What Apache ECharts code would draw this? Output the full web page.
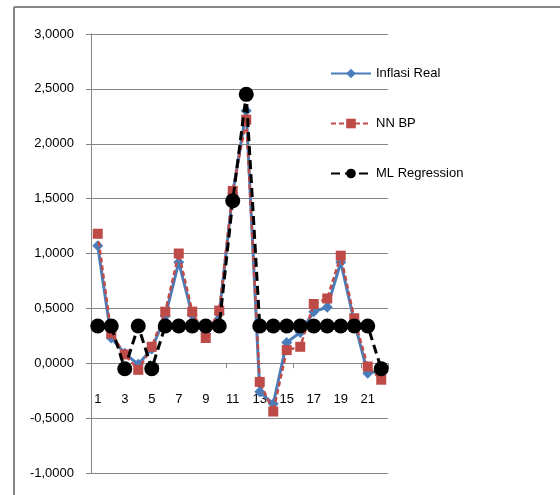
<!DOCTYPE html>
<html>
<head>
<meta charset="utf-8">
<script src="https://cdn.jsdelivr.net/npm/echarts@6/dist/echarts.min.js"></script>
<style>html,body{margin:0;padding:0;background:#fff;}#c{width:560px;height:495px;}</style>
</head>
<body>
<div id="c"></div>
<script>
const categories = ['1','2','3','4','5','6','7','8','9','10','11','12','13','14','15','16','17','18','19','20','21','22'];
const inflasiReal = [1.07, 0.23, 0.09, -0.01, 0.13, 0.43, 0.92, 0.44, 0.27, 0.45, 1.55, 2.30, -0.26, -0.37, 0.19, 0.28, 0.47, 0.51, 0.92, 0.38, -0.09, -0.07];
const nnBP = [1.18, 0.27, 0.08, -0.06, 0.15, 0.47, 1.00, 0.47, 0.23, 0.48, 1.57, 2.22, -0.17, -0.44, 0.12, 0.15, 0.54, 0.59, 0.98, 0.41, -0.03, -0.15];
const mlRegression = [0.34, 0.34, -0.05, 0.34, -0.05, 0.34, 0.34, 0.34, 0.34, 0.34, 1.48, 2.45, 0.34, 0.34, 0.34, 0.34, 0.34, 0.34, 0.34, 0.34, 0.34, -0.05];
const seriesNames = ['Inflasi Real', 'NN BP', 'ML Regression'];

const FONT = '"Liberation Sans", sans-serif';
const FS = 13;
const chart = echarts.init(document.getElementById('c'), null, {renderer: 'canvas'});
chart.setOption({
  backgroundColor: '#ffffff',
  animation: false,
  textStyle: {fontFamily: FONT},
  graphic: [
    {type: 'line', shape: {x1: 14, y1: 7, x2: 560, y2: 7}, style: {stroke: '#868686', lineWidth: 2}},
    {type: 'line', shape: {x1: 14, y1: 7, x2: 14, y2: 495}, style: {stroke: '#868686', lineWidth: 2}}
  ],
  grid: {left: 91, right: 172, top: 34, bottom: 22, containLabel: false, outerBoundsMode: 'none'},
  legend: {
    orient: 'vertical', left: 325, top: 62, itemGap: 37, itemWidth: 40, itemHeight: 12,
    textStyle: {fontFamily: FONT, fontSize: FS, color: '#000'},
    data: seriesNames
  },
  xAxis: [{
    type: 'category', data: categories, boundaryGap: true,
    axisLine: {onZero: true, lineStyle: {color: '#868686', width: 1}},
    axisTick: {show: true, interval: 4, length: 5, lineStyle: {color: '#868686'}},
    axisLabel: {show: false},
    splitLine: {show: false}
  }, {
    type: 'category', data: categories, boundaryGap: true, position: 'bottom', offset: -110,
    axisLine: {show: false, onZero: false},
    axisTick: {show: false},
    axisLabel: {interval: 1, margin: 30, fontSize: FS, color: '#000', fontFamily: FONT},
    splitLine: {show: false}
  }],
  yAxis: {
    type: 'value', min: -1, max: 3, interval: 0.5,
    axisLine: {show: true, lineStyle: {color: '#868686', width: 1}},
    axisTick: {show: true, length: 5, lineStyle: {color: '#868686'}},
    axisLabel: {margin: 17, fontSize: FS, color: '#000', fontFamily: FONT,
      formatter: v => v.toFixed(4).replace('.', ',')},
    splitLine: {show: true, lineStyle: {color: '#868686', width: 1}}
  },
  series: [
    {name: seriesNames[0], type: 'line', data: inflasiReal, symbol: 'diamond', symbolSize: 11, showAllSymbol: true,
     lineStyle: {color: '#4A7EBB', width: 3}, itemStyle: {color: '#4A7EBB'}, z: 2},
    {name: seriesNames[1], type: 'line', data: nnBP, symbol: 'rect', symbolSize: 10, showAllSymbol: true,
     lineStyle: {color: '#BE4B48', width: 2.5, type: [5, 3]}, itemStyle: {color: '#BE4B48'}, z: 3},
    {name: seriesNames[2], type: 'line', data: mlRegression, symbol: 'circle', symbolSize: 15, showAllSymbol: true,
     lineStyle: {color: '#000', width: 3, type: [9, 5]}, itemStyle: {color: '#000'}, z: 4}
  ]
});
</script>
</body>
</html>
